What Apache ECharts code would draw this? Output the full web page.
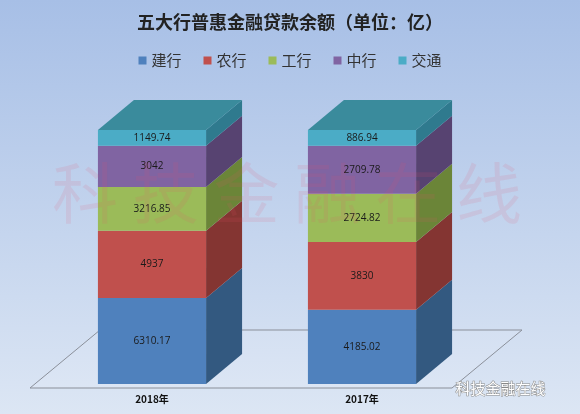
<!DOCTYPE html>
<html>
<head>
<meta charset="utf-8">
<script src="https://cdn.jsdelivr.net/npm/echarts@6/dist/echarts.min.js"></script>
<style>
  html, body { margin: 0; padding: 0; }
  #chart { width: 580px; height: 414px; background: linear-gradient(#a7bfe6, #dce6f4); }
</style>
</head>
<body>
<div id="chart"></div>
<script>
  var years = ['2018年', '2017年'];
  var banks = ['建行', '农行', '工行', '中行', '交通'];
  var jianhang = [6310.17, 4185.02];
  var nonghang = [4937, 3830];
  var gonghang = [3216.85, 2724.82];
  var zhonghang = [3042, 2709.78];
  var jiaotong = [1149.74, 886.94];
  var colors = ['#4f81bd', '#c0504d', '#9bbb59', '#8064a2', '#4bacc6'];
  var sides = ['#335980', '#843532', '#6b8538', '#574371', '#2f7a8e'];
  var tops = ['#3d6aa0', '#a34542', '#839f48', '#6a538a', '#3a8b9c'];

  var all = [jianhang, nonghang, gonghang, zhonghang, jiaotong];
  var totals = years.map(function (y, i) {
    return all.reduce(function (s, a) { return s + a[i]; }, 0);
  });

  var DX = 36, DY = -30;
  var chart = echarts.init(document.getElementById('chart'));

  var series = banks.map(function (name, k) {
    var data = years.map(function (y, i) {
      var start = 0;
      for (var j = 0; j < k; j++) start += all[j][i] / totals[i] * 100;
      return [i, start, start + all[k][i] / totals[i] * 100, all[k][i]];
    });
    return {
      name: name,
      type: 'custom',
      data: data,
      renderItem: function (params, api) {
        var p0 = api.coord([api.value(0), api.value(1)]);
        var p1 = api.coord([api.value(0), api.value(2)]);
        var w = api.size([1, 0])[0] * 0.515;
        var x0 = p0[0] - w / 2, x1 = p0[0] + w / 2;
        var yb = p0[1], yt = p1[1];
        var children = [
          { type: 'polygon', shape: { points: [[x1, yb], [x1 + DX, yb + DY], [x1 + DX, yt + DY], [x1, yt]] },
            style: { fill: sides[k] } },
          { type: 'rect', shape: { x: x0, y: yt, width: w, height: yb - yt },
            style: { fill: colors[k] } },
          { type: 'text', x: p0[0], y: (yb + yt) / 2,
            style: { text: String(api.value(3)), fill: '#1a1a1a', font: '10px "Open Sans", sans-serif',
              align: 'center', verticalAlign: 'middle' } }
        ];
        if (k === banks.length - 1) {
          children.push({ type: 'polygon', shape: { points: [[x0, yt], [x0 + DX, yt + DY], [x1 + DX, yt + DY], [x1, yt]] },
            style: { fill: tops[k] } });
        }
        return { type: 'group', children: children };
      }
    };
  });

  chart.setOption({
    backgroundColor: 'transparent',
    color: colors,
    title: {
      text: '五大行普惠金融贷款余额（单位：亿）',
      left: 'center', top: 8,
      textStyle: { fontFamily: 'Noto Sans CJK SC', fontSize: 18, fontWeight: 'bold', color: '#222' }
    },
    legend: {
      data: banks, top: 48, left: 'center', itemWidth: 8, itemHeight: 8, itemGap: 22, icon: 'rect',
      textStyle: { fontFamily: 'Noto Sans CJK SC', fontSize: 15, color: '#333' }
    },
    grid: { left: 47, right: 113, top: 130, bottom: 30 },
    xAxis: {
      type: 'category', data: years,
      axisLine: { show: false }, axisTick: { show: false },
      axisLabel: { margin: 10, fontSize: 10, color: '#111', fontFamily: 'Noto Sans CJK SC', fontWeight: 'bold' }
    },
    yAxis: { type: 'value', min: 0, max: 100, show: false, splitLine: { show: false } },
    graphic: [
      { type: 'polygon', z: 1, shape: { points: [[30, 388], [100, 330], [522, 330], [452, 388]] },
        style: { fill: 'rgba(255,255,255,0.08)', stroke: '#8a8f99', lineWidth: 1 } },
      { type: 'text', z: 100, left: 52, top: 160,
        style: { text: '科 技 金 融 在 线', font: '66px "Noto Sans CJK SC"', fill: 'rgba(230,80,110,0.12)' } },
      { type: 'text', z: 100, left: 455, top: 380,
        style: { text: '科技金融在线', font: '15px "Noto Sans CJK SC"', fill: '#ffffff', stroke: '#888', lineWidth: 1 } }
    ],
    series: series
  });
</script>
</body>
</html>
